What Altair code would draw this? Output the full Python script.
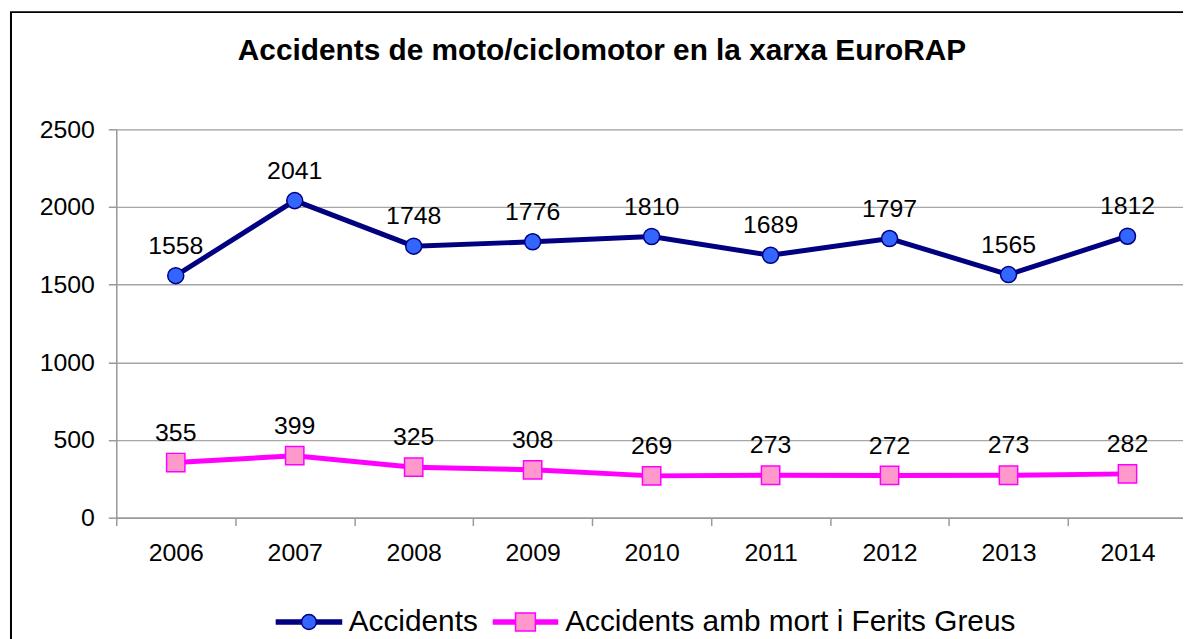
import altair as alt
import pandas as pd

# ---- data ----
years = ['2006', '2007', '2008', '2009', '2010', '2011', '2012', '2013', '2014']
accidents = [1558, 2041, 1748, 1776, 1810, 1689, 1797, 1565, 1812]
greus = [355, 399, 325, 308, 269, 273, 272, 273, 282]
series_names = ['Accidents', 'Accidents amb mort i Ferits Greus']
y_ticks = [0, 500, 1000, 1500, 2000, 2500]
title_text = 'Accidents de moto/ciclomotor en la xarxa EuroRAP'

# ---- styles ----
line_colors = ['#000080', '#FF00FF']
fill_colors = ['#3366FF', '#FF99CC']
shapes = ['circle', 'square']
sizes = [260, 340]
FONT = 'Liberation Sans'

rows = []
for yr, a, g in zip(years, accidents, greus):
    rows.append({'year': yr, 'serie': series_names[0], 'value': a})
    rows.append({'year': yr, 'serie': series_names[1], 'value': g})
df = pd.DataFrame(rows)

x_enc = alt.X(
    'year:N', sort=years,
    scale=alt.Scale(type='band', range=[0, 1078], paddingInner=0, paddingOuter=0),
    axis=alt.Axis(title=None, labelAngle=0, tickBand='extent', grid=False,
                  domainColor='#9a9a9a', domainWidth=1.5, tickColor='#9a9a9a', tickWidth=1.5,
                  tickSize=8, labelPadding=15, labelFontSize=25, labelFont=FONT,
                  labelColor='black'))
y_enc = alt.Y(
    'value:Q', scale=alt.Scale(domain=[0, 2500], nice=False),
    axis=alt.Axis(title=None, values=y_ticks, format='d', grid=True, gridColor='#a6a6a6',
                  gridWidth=1.3, domainColor='#9a9a9a', domainWidth=1.5, tickColor='#9a9a9a',
                  tickWidth=1.5, tickSize=8, labelPadding=14, labelFontSize=25, labelFont=FONT,
                  labelColor='black'))

base = alt.Chart(df)
layers = []
for name, lc in zip(series_names, line_colors):
    layers.append(base.transform_filter(alt.datum.serie == name)
                  .mark_line(color=lc, strokeWidth=5)
                  .encode(x=x_enc, y=y_enc))
for name, lc, fc, sh, sz in zip(series_names, line_colors, fill_colors, shapes, sizes):
    layers.append(base.transform_filter(alt.datum.serie == name)
                  .mark_point(shape=sh, filled=True, fill=fc, stroke=lc, strokeWidth=1.5,
                              size=sz, opacity=1)
                  .encode(x=x_enc, y=y_enc))

labels = base.mark_text(dy=-22, fontSize=25, font=FONT, color='black',
                        baseline='alphabetic', align='center').encode(
    x=x_enc, y=y_enc, text=alt.Text('value:Q', format='d'))
layers.append(labels)

# legend symbols: line + marker, drawn as custom symbol paths
seg = [-0.2, -0.1, 0, 0.1, 0.2]
circle_path = ''.join(f'M-3.35,{s}H-0.75M0.75,{s}H3.35' for s in seg) + \
    'M-0.75,0A0.75,0.75,0,1,0,0.75,0A0.75,0.75,0,1,0,-0.75,0Z'
square_path = ''.join(f'M-3.3,{s}H-1M1,{s}H3.3' for s in seg) + \
    'M-1,-0.9H1V0.9H-1Z'

legend = alt.Legend(orient='none', legendX=179, legendY=481, direction='horizontal',
                    title=None, labelFontSize=30, labelFont=FONT, labelColor='black',
                    symbolSize=400, symbolStrokeWidth=1.5, symbolOpacity=1,
                    labelLimit=1000, labelOffset=25, columnPadding=11, padding=0)

legend_layer = base.mark_point(filled=True, opacity=0).encode(
    x=x_enc, y=y_enc,
    fill=alt.Fill('serie:N', scale=alt.Scale(domain=series_names, range=fill_colors), legend=legend),
    stroke=alt.Stroke('serie:N', scale=alt.Scale(domain=series_names, range=line_colors), legend=legend),
    shape=alt.Shape('serie:N', scale=alt.Scale(domain=series_names, range=[circle_path, square_path]),
                    legend=legend))
layers.append(legend_layer)

# outer frame of the chart (top and left edges visible in the reference)
frame_df = pd.DataFrame({'k': [0]})
frame_left = alt.Chart(frame_df).mark_rule(color='black', strokeWidth=2).encode(
    x=alt.value(-106), y=alt.value(-118), y2=alt.value(700))
frame_top = alt.Chart(frame_df).mark_rule(color='black', strokeWidth=2).encode(
    x=alt.value(-107), x2=alt.value(1200), y=alt.value(-118))
layers = [frame_left, frame_top] + layers

chart = alt.layer(*layers).properties(
    width=1074, height=391,
    autosize=alt.AutoSizeParams(type='none'),
    padding={'left': 109, 'top': 120, 'right': 0, 'bottom': 120},
    title=alt.Title(title_text, fontSize=30, fontWeight='bold', font=FONT, color='black',
                    anchor='middle', frame='group', dx=-48, offset=-79, baseline='alphabetic'),
).configure_view(strokeWidth=0).configure(background='white')

chart.save('out.html', embed_options={'renderer': 'svg', 'actions': False})
